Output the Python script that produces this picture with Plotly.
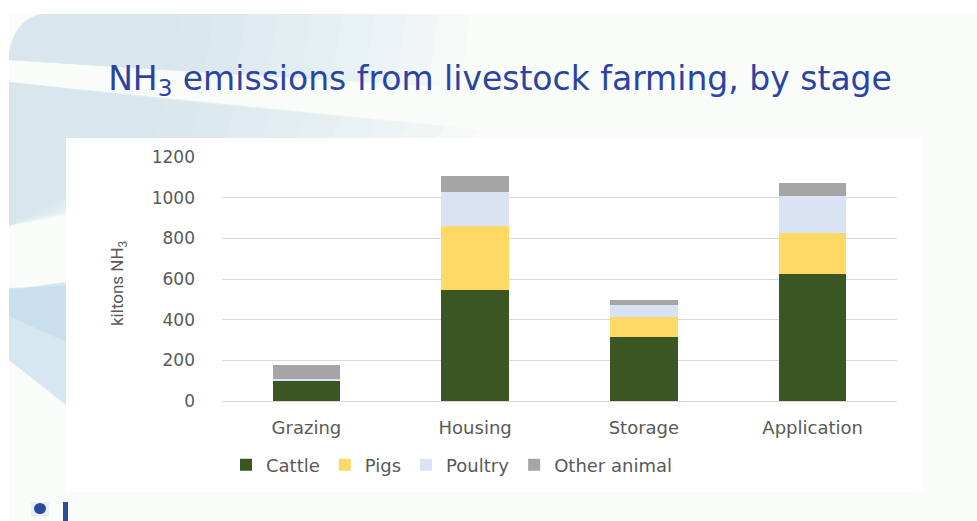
import plotly.graph_objects as go

# Ammonia emissions from livestock farming (kilotonnes NH3), split by manure-management stage
stages = ["Grazing", "Housing", "Storage", "Application"]
cattle = [100, 545, 317, 627]
pigs = [3, 316, 95, 198]
poultry = [4, 167, 59, 185]
other_animal = [70, 79, 28, 62]
y_ticks = [0, 200, 400, 600, 800, 1000, 1200]

series = [
    ("Cattle", cattle, "#3a5623"),
    ("Pigs", pigs, "#ffd966"),
    ("Poultry", poultry, "#dae3f3"),
    ("Other animal", other_animal, "#a5a5a5"),
]

W, H = 977, 521
L, R, T, B = 222, 80, 157, 120
PW, PH = W - L - R, H - T - B


def px(x):
    return (x - L) / PW


def py(y):
    return (H - B - y) / PH


def path(cmds):
    out = []
    for c in cmds:
        op, pts = c[0], c[1:]
        coords = " ".join(f"{px(pts[i]):.4f},{py(pts[i + 1]):.4f}" for i in range(0, len(pts), 2))
        out.append(op + coords)
    return " ".join(out) + " Z"


def poly(cmds, color, opacity=1.0):
    return dict(type="path", xref="paper", yref="paper", layer="below",
                path=path(cmds), fillcolor=color, opacity=opacity,
                line=dict(width=0))


def rect(x0, y0, x1, y1, color):
    return dict(type="rect", xref="paper", yref="paper", layer="below",
                x0=px(x0), x1=px(x1), y0=py(y1), y1=py(y0),
                fillcolor=color, line=dict(width=0))


swoosh = "#c9dfee"
shapes = [rect(9, 14, W, H, "#fafcfa")]
# upper swoosh: stacked translucent layers give a soft fade to the right
n_layers = 10
for k in range(n_layers):
    reach = 470 - k * 32
    shapes.append(poly([("M", 9, 54), ("Q", 13, 22, 40, 14), ("L", reach, 14),
                        ("L", reach - 10, 60 + reach * 0.06), ("L", 9, 60)], swoosh, 0.09))
# band under the light streak
for k in range(n_layers):
    reach = 480 - k * 35
    shapes.append(poly([("M", 9, 82), ("L", reach, 86 + reach * 0.09),
                        ("L", reach - 10, 140), ("L", 9, 226)], swoosh, 0.09))
# lower left wedge
shapes.append(poly([("M", 9, 290), ("L", 66, 282), ("L", 66, 405), ("L", 9, 360)], "#cfe3f0", 0.85))
shapes.append(poly([("M", 9, 288), ("L", 66, 286), ("L", 66, 342), ("L", 9, 316)], "#c4dbeb", 0.7))
# white chart panel
shapes.append(rect(66, 138, 922, 492, "#ffffff"))
# footer logo marks
shapes.append(rect(31, 502, 49, 516, "#e9eef6"))
shapes.append(dict(type="circle", xref="paper", yref="paper", layer="below",
                   x0=px(34), x1=px(46), y0=py(514), y1=py(503),
                   fillcolor="#2c4b9b", line=dict(width=0)))
shapes.append(rect(63, 502, 68, 521, "#2c4b9b"))

fig = go.Figure()
for name, vals, color in series:
    fig.add_trace(go.Bar(name=name, x=stages, y=vals,
                         marker=dict(color=color, line=dict(width=0))))

tick_font = dict(family="DejaVu Sans", size=17, color="#595959")
cat_font = dict(family="DejaVu Sans", size=18, color="#595959")

fig.update_layout(
    width=W, height=H,
    margin=dict(l=L, r=R, t=T, b=B),
    barmode="stack", bargap=0.6,
    paper_bgcolor="#ffffff", plot_bgcolor="rgba(0,0,0,0)",
    shapes=shapes,
    title=dict(text="NH<sub>3</sub> emissions from livestock farming, by stage",
               xref="paper", yref="container",
               x=px(500), xanchor="center", y=1 - 78 / H, yanchor="middle",
               font=dict(family="DejaVu Sans", size=33, color="#2a44a3")),
    xaxis=dict(showgrid=False, showline=False, zeroline=False,
               tickfont=cat_font, ticklabelstandoff=14),
    yaxis=dict(range=[0, 1200], tickvals=y_ticks, showgrid=True,
               gridcolor="#d9d9d9", gridwidth=1, zeroline=True,
               zerolinecolor="#d9d9d9", zerolinewidth=1, showline=False,
               tickfont=tick_font, ticklabelstandoff=26),
    legend=dict(orientation="h", x=px(226), xanchor="left", y=py(465), yanchor="middle",
                font=cat_font, traceorder="normal", bgcolor="rgba(0,0,0,0)"),
    annotations=[dict(text="kiltons NH<sub>3</sub>", xref="paper", yref="paper",
                      x=px(118), y=py(283), xanchor="center", yanchor="middle",
                      textangle=-90, showarrow=False,
                      font=dict(family="Liberation Sans Narrow, Roboto", size=17,
                                color="#595959"))],
)

fig.write_html("out.html")
